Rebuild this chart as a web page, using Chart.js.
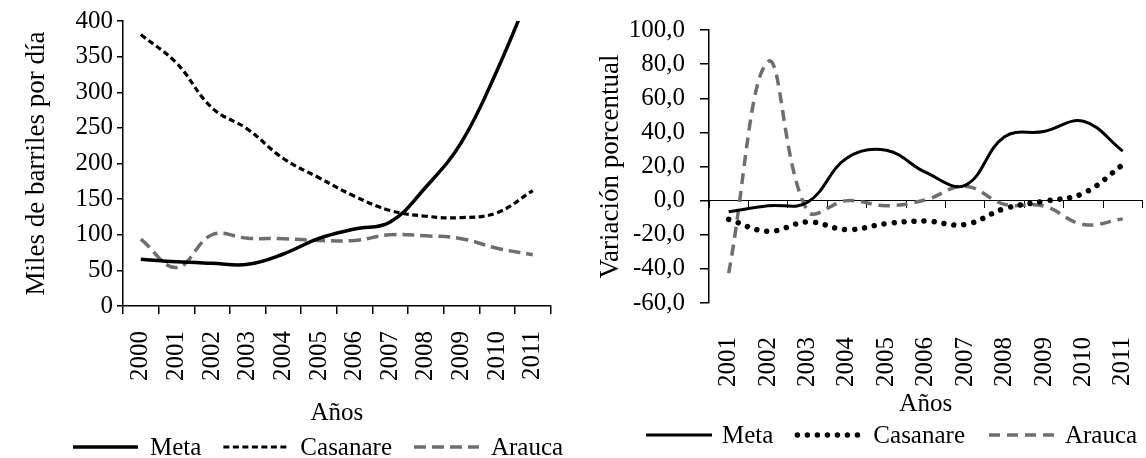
<!DOCTYPE html>
<html>
<head>
<meta charset="utf-8">
<script src="https://cdn.jsdelivr.net/npm/chart.js@4"></script>
<style>
  html, body { margin: 0; padding: 0; background: #fff; width: 1146px; height: 458px; overflow: hidden; }
  #prodBox { position: absolute; left: 0; top: 0; width: 580px; height: 458px; }
  #varBox { position: absolute; left: 580px; top: 0; width: 600px; height: 458px; }
</style>
</head>
<body>
<div id="prodBox"><canvas id="prodChart"></canvas></div>
<div id="varBox"><canvas id="varChart"></canvas></div>
<script>
// Producción (miles de barriles por día)
const prodYears = ['2000', '2001', '2002', '2003', '2004', '2005', '2006', '2007', '2008', '2009', '2010', '2011'];
const metaProd = [65.5, 62, 60, 58.5, 73, 95, 108, 118, 167, 230, 331, 450];
const casanareProd = [381, 341, 278, 248, 207, 180, 154, 134, 126, 124, 131, 162];
const araucaProd = [94, 54, 100, 95, 94.5, 92, 92, 100, 98.5, 94.5, 81, 72];
const prodTicks = { min: 0, max: 400, step: 50 };

// Variación porcentual anual
const varYears = ['2001', '2002', '2003', '2004', '2005', '2006', '2007', '2008', '2009', '2010', '2011'];
const metaVar = [-6.5, -3, -1, 25, 29.5, 16.5, 9, 37.5, 40.5, 46.5, 29];
const casanareVar = [-11, -18, -12.5, -17, -13.5, -12, -14, -4.7, -0.4, 4.3, 21];
const araucaVar = [-42.5, 81.5, -6, 0, -3, 0.5, 8.5, -2.2, -3.2, -14, -10.7];
const varTicks = { min: -60, max: 100, step: 20 };

const serif = '"Liberation Serif", "Times New Roman", serif';
const GRAY = '#6e6e6e';

// legend drawn as a line sample + label, in a single row
const lineLegend = {
  id: 'lineLegend',
  afterDraw(chart, args, opts) {
    const ctx = chart.ctx;
    let x = opts.x;
    ctx.save();
    ctx.font = opts.size + 'px ' + serif;
    ctx.textBaseline = 'middle';
    chart.data.datasets.forEach(ds => {
      ctx.beginPath();
      ctx.strokeStyle = ds.borderColor;
      ctx.lineWidth = ds.borderWidth;
      ctx.setLineDash(ds.borderDash || []);
      ctx.lineCap = ds.borderCapStyle || 'butt';
      ctx.moveTo(x, opts.y);
      ctx.lineTo(x + opts.len, opts.y);
      ctx.stroke();
      x += opts.len + opts.gap;
      ctx.fillStyle = '#000';
      ctx.fillText(ds.label, x, opts.y + 1);
      x += ctx.measureText(ds.label).width + opts.spacing;
    });
    ctx.restore();
  }
};

function series(label, data, color, width, dash, cap) {
  return {
    label, data,
    borderColor: color,
    borderWidth: width,
    borderDash: dash,
    borderCapStyle: cap || 'butt',
    pointRadius: 0,
    tension: 0.4,
    fill: false
  };
}

function yAxis(range, title, opts) {
  return {
    min: range.min, max: range.max,
    ticks: {
      stepSize: range.step, color: '#000', padding: opts.pad, autoSkip: false,
      font: { family: serif, size: 25 },
      callback: opts.fmt
    },
    grid: { drawOnChartArea: false, drawTicks: true, tickLength: opts.tick, color: '#000', lineWidth: 1.5 },
    border: { color: '#000', width: 1.5 },
    title: {
      display: true, text: title, color: '#000',
      font: { family: serif, size: 27 },
      padding: { top: opts.titlePad, bottom: 0 }
    },
    afterFit(scale) { scale.width = opts.width; }
  };
}

const yearTicks = (pad) => ({
  color: '#000', padding: pad, autoSkip: false,
  minRotation: 90, maxRotation: 90,
  font: { family: serif, size: 25 }
});

const xTitle = {
  display: true, text: 'Años', color: '#000',
  font: { family: serif, size: 25 },
  padding: { top: 0, bottom: 0 }
};

new Chart(document.getElementById('prodChart'), {
  type: 'line',
  data: {
    labels: prodYears,
    datasets: [
      series('Meta', metaProd, '#000', 3.5, []),
      series('Casanare', casanareProd, '#000', 3.2, [6, 3.5]),
      series('Arauca', araucaProd, GRAY, 3.5, [12, 6])
    ]
  },
  options: {
    responsive: true,
    maintainAspectRatio: false,
    animation: false,
    events: [],
    layout: { padding: { top: 21, left: 0, right: 5, bottom: 30 } },
    elements: { line: { capBezierPoints: false } },
    plugins: {
      legend: { display: false },
      tooltip: { enabled: false },
      lineLegend: { x: 73, y: 447, len: 65, gap: 12, spacing: 22, size: 25 }
    },
    scales: {
      x: {
        offset: true,
        ticks: yearTicks(17),
        grid: { offset: true, drawOnChartArea: false, tickLength: 8, color: '#000', lineWidth: 1.5 },
        border: { color: '#000', width: 1.5 },
        title: xTitle,
        afterFit(scale) { scale.height = 122; }
      },
      y: yAxis(prodTicks, 'Miles de barriles por día', { pad: 4, tick: 6, titlePad: 21, width: 123 })
    }
  },
  plugins: [lineLegend]
});

new Chart(document.getElementById('varChart'), {
  type: 'line',
  data: {
    labels: varYears,
    datasets: [
      series('Meta', metaVar, '#000', 3, []),
      series('Casanare', casanareVar, '#000', 5.5, [0.01, 10], 'round'),
      series('Arauca', araucaVar, GRAY, 3.5, [11, 7])
    ]
  },
  options: {
    responsive: true,
    maintainAspectRatio: false,
    animation: false,
    events: [],
    layout: { padding: { top: 20, left: 0, right: 27, bottom: 39 } },
    elements: { line: { capBezierPoints: false } },
    plugins: {
      legend: { display: false },
      tooltip: { enabled: false },
      lineLegend: { x: 66, y: 435, len: 66, gap: 10, spacing: 24, size: 25 }
    },
    scales: {
      // category axis crossing at 0, tick marks only
      x: {
        position: { y: 0 },
        offset: true,
        ticks: { display: false },
        grid: { offset: true, drawOnChartArea: false, tickLength: 7, color: '#000', lineWidth: 1 },
        border: { color: '#000', width: 1 },
        afterFit(scale) { scale.height = 0; }
      },
      // year labels and title under the plot
      xLabels: {
        type: 'category',
        position: 'bottom',
        offset: true,
        ticks: yearTicks(26),
        grid: { display: false },
        border: { display: false },
        title: xTitle,
        afterFit(scale) { scale.height = 116; }
      },
      y: yAxis(varTicks, 'Variación porcentual', {
        pad: 15, tick: 9, titlePad: 15, width: 129,
        fmt: v => v.toFixed(1).replace('.', ',')
      })
    }
  },
  plugins: [lineLegend]
});
</script>
</body>
</html>
